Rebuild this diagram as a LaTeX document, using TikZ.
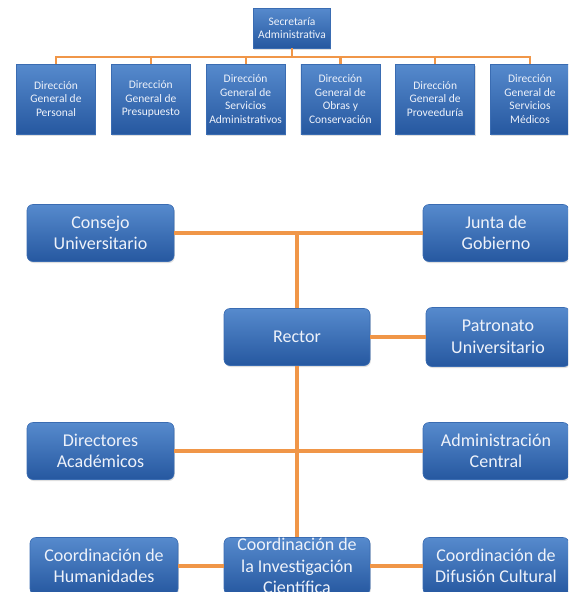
\documentclass[tikz,border=0pt]{standalone}
\usepackage{fontspec}
\setmainfont{Carlito}
\usetikzlibrary{shadows}
\definecolor{boxtop}{RGB}{86,138,205}
\definecolor{boxbot}{RGB}{38,88,160}
\definecolor{boxedge}{RGB}{58,108,178}
\definecolor{linkorange}{RGB}{240,150,72}
\definecolor{boxtext}{RGB}{238,242,250}
\tikzset{
  unitbox/.style={top color=boxtop,bottom color=boxbot,draw=boxedge,line width=0.6pt,
    text=boxtext,align=center,inner sep=1pt,
    drop shadow={opacity=0.25,shadow xshift=0.8pt,shadow yshift=-1.5pt}},
  smallbox/.style={unitbox,minimum width=79pt,minimum height=70pt,
    font=\fontsize{11.5}{13.5}\selectfont},
  bigbox/.style={unitbox,rounded corners=6pt,minimum width=146pt,minimum height=57pt,
    font=\fontsize{18}{21.5}\selectfont},
  link/.style={linkorange,line width=3.2pt},
  thinlink/.style={linkorange,line width=2.2pt}
}
\begin{document}
\begin{tikzpicture}[x=1pt,y=-1pt]
  \useasboundingbox (0,0) rectangle (568,592);
  \clip (0,0) rectangle (568,592);
  % Secretaria and its six general directions.
  \node[smallbox,minimum width=77pt,minimum height=40pt] (sec) at (292,28)
    {Secretaría\\Administrativa};
  \foreach \i/\txt in {1/{Dirección\\General de\\Personal},
      2/{Dirección\\General de\\Presupuesto},
      3/{Dirección\\General de\\Servicios\\Administrativos},
      4/{Dirección\\General de\\Obras y\\Conservación},
      5/{Dirección\\General de\\Proveeduría},
      6/{Dirección\\General de\\Servicios\\Médicos}}{
    \node[smallbox] (dg\i) at ({56+94.8*(\i-1)},99) {\txt};
    \draw[thinlink] (sec.south) -- ++(0,9) -| (dg\i.north);
  }

  % University governing bodies.
  \node[bigbox,minimum width=147pt] (consejo) at (100.5,233) {Consejo\\Universitario};
  \node[bigbox] (junta) at (496,233) {Junta de\\Gobierno};
  \node[bigbox] (rector) at (297,337) {Rector};
  \node[bigbox,minimum width=144pt,minimum height=59pt] (patronato) at (498,337)
    {Patronato\\Universitario};
  \node[bigbox,minimum width=147pt] (directores) at (100.5,451) {Directores\\Académicos};
  \node[bigbox] (admin) at (496,451) {Administración\\Central};
  \node[bigbox,minimum width=148pt] (humanidades) at (104,566)
    {Coordinación de\\Humanidades};
  \node[bigbox,inner ysep=-2pt] (investigacion) at (297,566)
    {Coordinación de\\la Investigación\\Científica};
  \node[bigbox] (difusion) at (496,566) {Coordinación de\\Difusión Cultural};

  \draw[link] (consejo) -- (junta);
  \draw[link] (rector.north) -- (rector.north |- consejo.east);
  \draw[link] (rector) -- (patronato);
  \draw[link] (directores) -- (admin);
  \draw[link] (rector.south) -- (investigacion.north);
  \draw[link] (humanidades) -- (investigacion);
  \draw[link] (investigacion) -- (difusion);
\end{tikzpicture}
\end{document}
